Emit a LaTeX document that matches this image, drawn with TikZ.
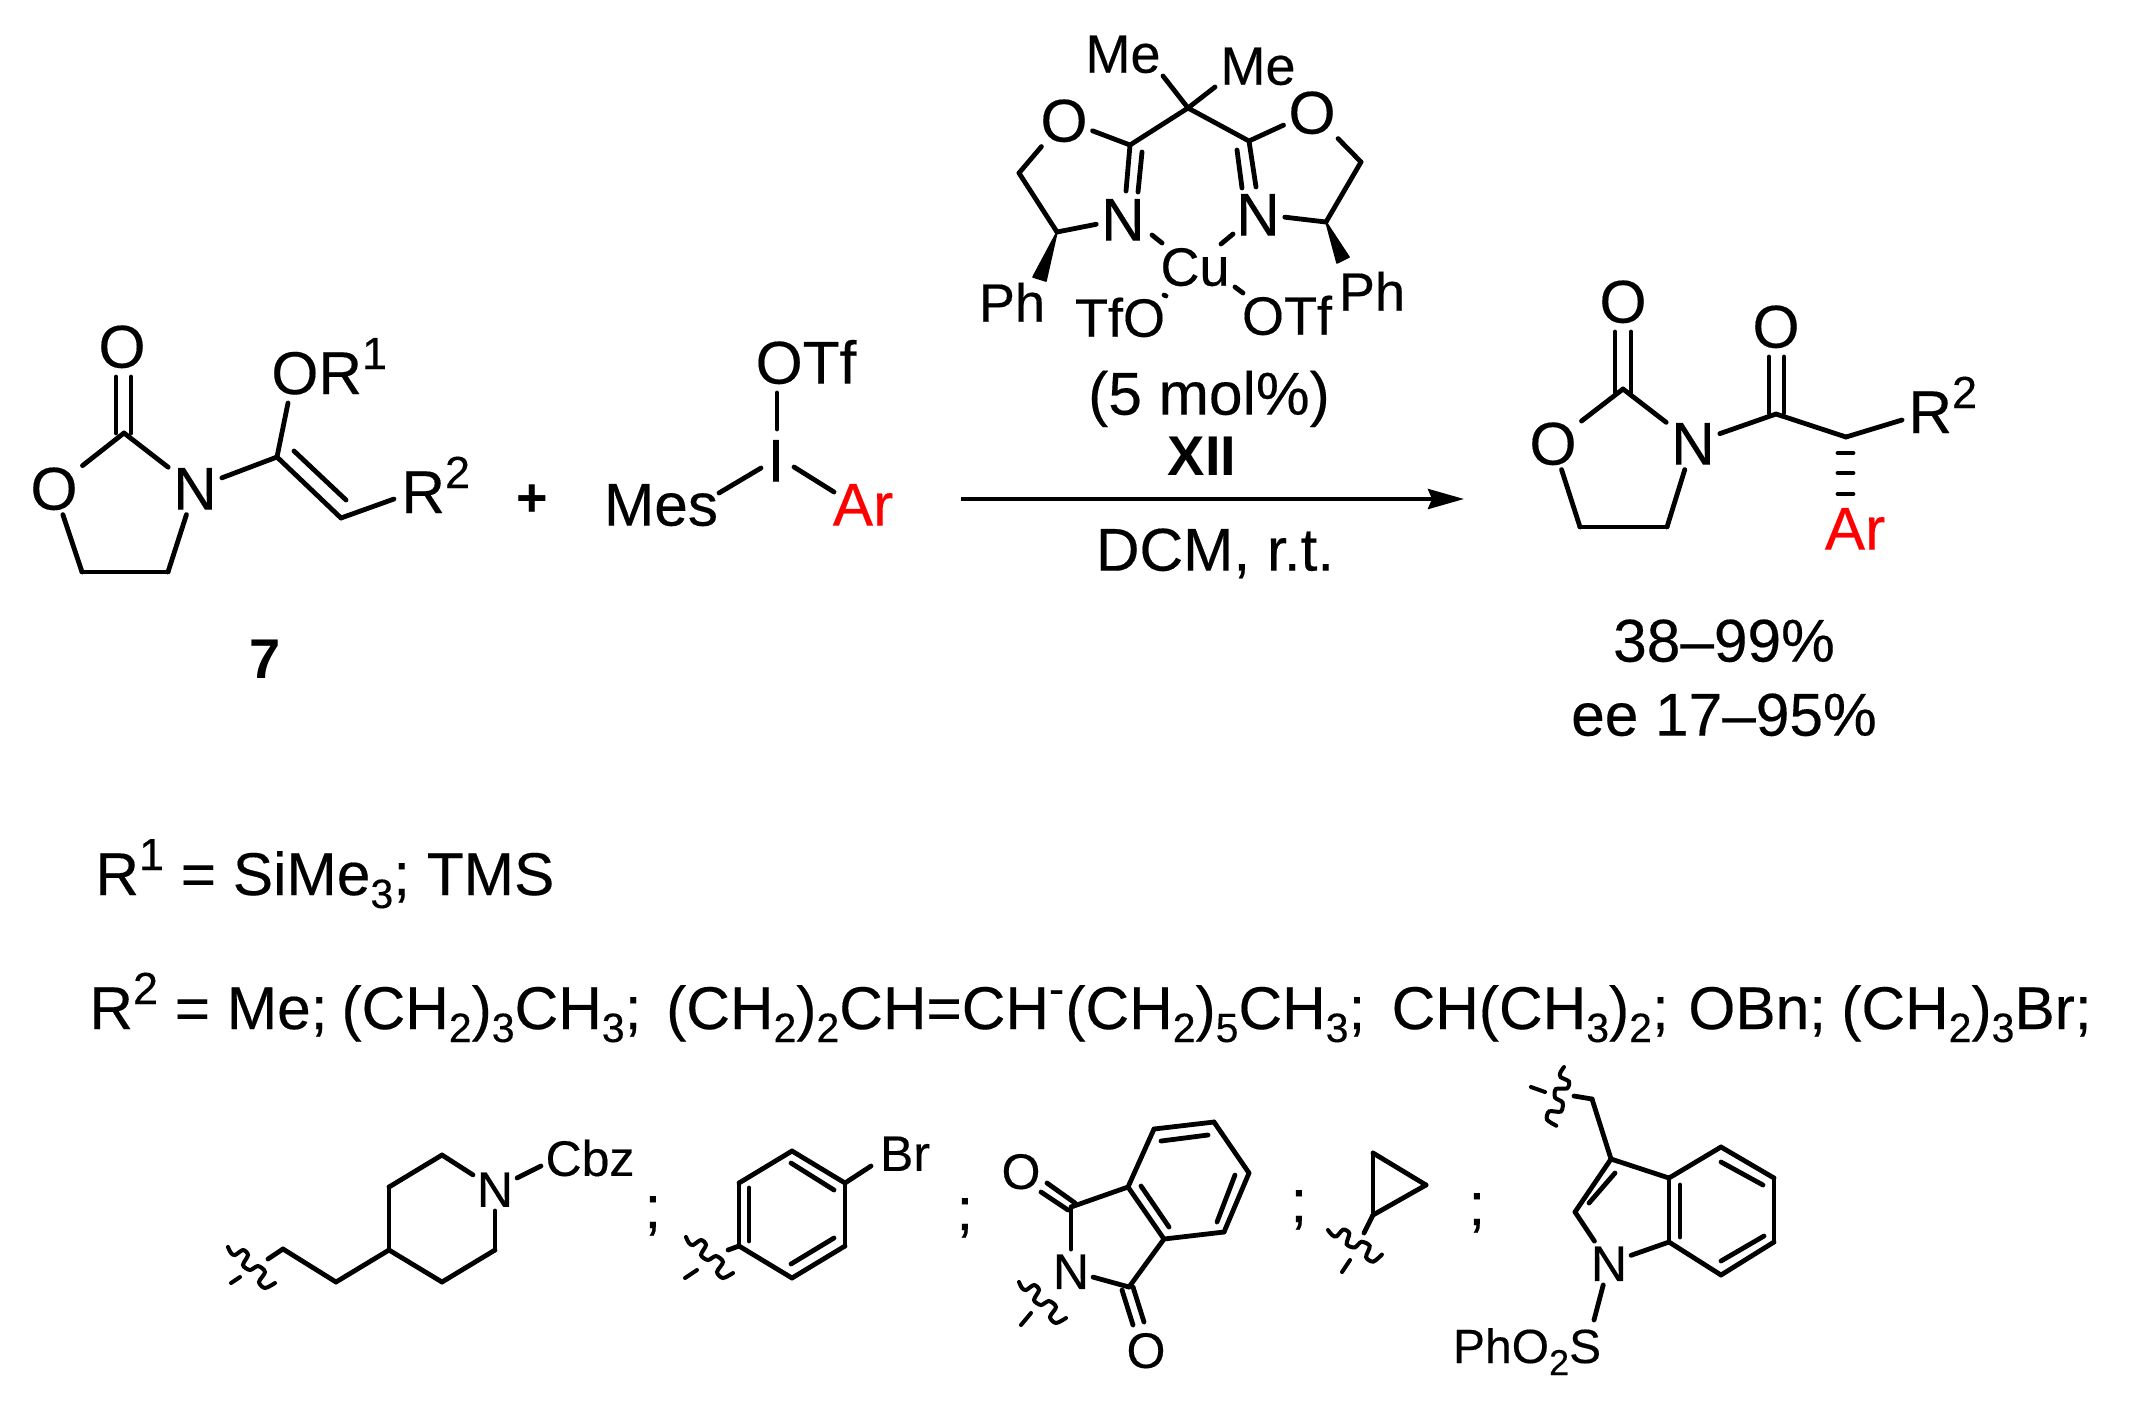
\documentclass[tikz,border=0pt]{standalone}
\usepackage{fontspec}
\setmainfont{Liberation Sans}[FakeBold=0.3, BoldFeatures={FakeBold=0}]
\usetikzlibrary{arrows.meta}
\newcommand{\supr}[1]{\raisebox{12.5pt}{\fontsize{22.5}{22}\selectfont #1}}
\newcommand{\subr}[1]{\raisebox{-6.5pt}{\fontsize{20.5}{20}\selectfont #1}}
\newcommand{\subs}[1]{\raisebox{-6pt}{\fontsize{18}{20}\selectfont #1}}
\newcommand{\squiggle}[2]{\draw[wavy, shift={(#1)}, rotate=#2] plot[smooth] coordinates {(0,0) (3,6) (7,8) (15,3) (20,8) (15,18) (22,23) (30,19) (37,25) (31,35) (37,41) (47,36)};}
\begin{document}
\begin{tikzpicture}[x=0.5pt, y=-0.5pt]
        \tikzstyle{atom} = [inner sep=0pt, outer sep=2.5pt, text height=21.6pt, text depth=0pt, font=\fontsize{30.2}{32}\selectfont]
        \tikzstyle{boldatom} = [atom, font=\bfseries\fontsize{28}{32}\selectfont, text height=20pt]
        \tikzstyle{ligand} = [inner sep=0pt, outer sep=2.5pt, text height=19.7pt, text depth=0pt, font=\fontsize{27}{32}\selectfont]
        \tikzstyle{small} = [inner sep=0pt, outer sep=2pt, text height=17.9pt, text depth=0pt, font=\fontsize{25}{28}\selectfont]
        \tikzstyle{note} = [inner sep=0pt, anchor=base west, font=\fontsize{30.2}{32}\selectfont]
        \tikzstyle{bond} = [line width=2.4pt, line cap=round, line join=round]
        \tikzstyle{wavy} = [line width=2pt, line cap=round]
        \useasboundingbox (0,0) rectangle (2131,1405);
        % reactant 7
        \node[atom] (oa) at (122,346) {O};
        \node[atom] (ob) at (54,488) {O};
        \node[atom] (na) at (195,488) {N};
        \node[note] (orone) at (271,394) {OR\supr{1}};
        \node[note] (rtwoa) at (401,513) {R\supr{2}};
        \node[boldatom] (seven) at (265,658) {7};
        \foreach \nm/\px/\py in {ca/124/433, dbaa/116/377, dbab/131/377, dbac/116/433, dbad/131/433,
          cha/82/572, chb/168/572, cc/277/457, cd/341/518, dbca/294/451, dbcb/346/500,
          orend/288/403, rend/394/499}
          \coordinate (\nm) at (\px,\py);
        \path (dbaa) edge[bond] (dbac) (dbab) edge[bond] (dbad)
          (ca) edge[bond] (ob) (ca) edge[bond] (na) (ob) edge[bond] (cha)
          (cha) edge[bond] (chb) (chb) edge[bond] (na) (na) edge[bond] (cc)
          (cc) edge[bond] (orend) (cc) edge[bond] (cd) (dbca) edge[bond] (dbcb)
          (cd) edge[bond] (rend);
        \node[atom, font=\bfseries\fontsize{27}{32}\selectfont, text height=19pt] (plus) at (532,497) {+};
        % iodonium salt
        \node[atom] (iod) at (776,460) {I};
        \node[atom] (otfa) at (806,362) {OTf};
        \node[atom] (mes) at (661,504) {Mes};
        \node[atom, text=red] (ara) at (863,504) {Ar};
        \foreach \nm/\px/\py in {otfend/777/393, iotf/777/429, imes/761/468, mesend/719/493, iar/794/467, arend/834/492}
          \coordinate (\nm) at (\px,\py);
        \path (otfend) edge[bond] (iotf) (imes) edge[bond] (mesend) (iar) edge[bond] (arend);
        % catalyst XII
        \node[ligand] (mea) at (1123,53) {Me};
        \node[ligand] (meb) at (1258,65) {Me};
        \node[atom] (ol) at (1064,120) {O};
        \node[atom] (or) at (1312,112) {O};
        \node[atom] (nl) at (1123,219) {N};
        \node[atom] (nr) at (1258,214) {N};
        \node[ligand] (cu) at (1195,266) {Cu};
        \node[ligand] (phl) at (1012,302) {Ph};
        \node[ligand] (phr) at (1372,291) {Ph};
        \node[ligand] (tfo) at (1120,317) {TfO};
        \node[ligand] (otfb) at (1287,315) {OTf};
        \foreach \nm/\px/\py in {cq/1188/108, mealine/1163/76, mebline/1215/87, cl/1130/145, cr/1249/141,
          chl/1019/173, chr/1361/162, sl/1057/232, sr/1326/222,
          dla/1126/191, dlb/1142/152, dlc/1138/192, dra/1256/187, drb/1237/150, drc/1242/188,
          wla/1033/277, wlb/1046/281, wra/1337/263, wrb/1349/257,
          cnla/1152/235, cnlb/1162/243, cnra/1233/234, cnrb/1221/244, cota/1164/295, cotb/1166/296, cotc/1235/287, cotd/1243/293}
          \coordinate (\nm) at (\px,\py);
        \path (cq) edge[bond] (mealine) (cq) edge[bond] (mebline) (cq) edge[bond] (cl) (cq) edge[bond] (cr)
          (cl) edge[bond] (ol) (cr) edge[bond] (or) (ol) edge[bond] (chl) (or) edge[bond] (chr)
          (chl) edge[bond] (sl) (chr) edge[bond] (sr) (sl) edge[bond] (nl) (sr) edge[bond] (nr)
          (cl) edge[bond] (dla) (dlb) edge[bond] (dlc) (cr) edge[bond] (dra) (drb) edge[bond] (drc)
          (cnla) edge[bond] (cnlb) (cnra) edge[bond] (cnrb) (cota) edge[bond] (cotb) (cotc) edge[bond] (cotd);
        \filldraw[line width=0.8pt, line join=round] (sl) -- (wla) -- (wlb) -- cycle;
        \filldraw[line width=0.8pt, line join=round] (sr) -- (wra) -- (wrb) -- cycle;
        % conditions
        \node[atom] (mol) at (1209,393) {(5 mol\%)};
        \node[boldatom] (xii) at (1202,455) {XII};
        \node[atom] (dcm) at (1215,549) {DCM, r.t.};
        \coordinate (arrstart) at (961,499);
        \coordinate (arrend) at (1464,499);
        \draw[line width=2pt, -{Stealth[length=18pt, width=10pt, inset=2pt]}] (arrstart) -- (arrend);
        % product
        \node[atom] (oc) at (1623,301) {O};
        \node[atom] (od) at (1553,443) {O};
        \node[atom] (nb) at (1693,443) {N};
        \node[atom] (oe) at (1776,326) {O};
        \node[note] (rtwob) at (1908,433) {R\supr{2}};
        \node[atom, text=red] (arb) at (1855,528) {Ar};
        \foreach \nm/\px/\py in {pca/1623/389, paa/1615/332, pab/1631/332, pac/1615/392, pad/1631/392,
          pha/1580/527, phb/1667/527, pcb/1776/414, pba/1769/357, pbb/1784/357, pbc/1769/413, pbd/1784/413,
          pcc/1846/437, prend/1902/420, hsa/1838/453, hsb/1853/453, hsc/1838/473, hsd/1853/473, hse/1838/494, hsf/1853/494}
          \coordinate (\nm) at (\px,\py);
        \path (paa) edge[bond] (pac) (pab) edge[bond] (pad) (pca) edge[bond] (od) (pca) edge[bond] (nb)
          (od) edge[bond] (pha) (pha) edge[bond] (phb) (phb) edge[bond] (nb) (nb) edge[bond] (pcb)
          (pba) edge[bond] (pbc) (pbb) edge[bond] (pbd) (pcb) edge[bond] (pcc) (pcc) edge[bond] (prend)
          (hsa) edge[bond] (hsb) (hsc) edge[bond] (hsd) (hse) edge[bond] (hsf);
        \node[atom] (yield) at (1724,640) {38--99\%};
        \node[atom] (ee) at (1724,714) {ee 17--95\%};
        % substituents
        \node[note] (rone) at (95,895) {R\supr{1} = SiMe\subr{3}; TMS};
        \node[note] (rtwo) at (89,1029) {R\supr{2} = Me;\kern-1.4pt{} (CH\subr{2})\subr{3}CH\subr{3};\kern4pt{} (CH\subr{2})\subr{2}CH=CH\supr{-}\kern.7pt(CH\subr{2})\subr{5}CH\subr{3};\kern4.8pt{} CH(CH\subr{3})\subr{2};\kern1.4pt{} OBn;\kern-.7pt{} (CH\subr{2})\subr{3}Br;};
        \node[note] (sema) at (644,1228) {;};
        \node[note] (semb) at (956,1230) {;};
        \node[note] (semc) at (1290,1222) {;};
        \node[note] (semd) at (1468,1225) {;};
        % piperidine
        \node[small] (np) at (495,1189) {N};
        \node[small] (cbz) at (590,1158) {Cbz};
        \foreach \nm/\px/\py in {ppa/283/1249, ppb/268/1259, ppc/336/1282, ppd/389/1250, ppe/389/1187, ppf/442/1155,
          ppg/495/1250, pph/442/1282, ppi/541/1166, wva/228/1247, wvg/231/1283, wvh/240/1277}
          \coordinate (\nm) at (\px,\py);
        \path (ppb) edge[bond] (ppa) (ppa) edge[bond] (ppc) (ppc) edge[bond] (ppd) (ppd) edge[bond] (ppe)
          (ppe) edge[bond] (ppf) (ppf) edge[bond] (np) (np) edge[bond] (ppg) (ppg) edge[bond] (pph)
          (pph) edge[bond] (ppd) (np) edge[bond] (ppi) (wvg) edge[wavy] (wvh);
        \squiggle{wva}{0}
        % bromophenyl
        \node[small] (br) at (905,1153) {Br};
        \foreach \nm/\px/\py in {bza/792/1151, bzb/845/1183, bzc/845/1246, bzd/792/1278, bze/739/1246, bzf/739/1183,
          bia/791/1163, bib/834/1190, bic/834/1238, bid/791/1264, bie/749/1188, bif/749/1241, bend/871/1166, bwk/728/1250,
          wwa/686/1237, wwg/685/1278, wwh/697/1270}
          \coordinate (\nm) at (\px,\py);
        \path (bza) edge[bond] (bzb) (bzb) edge[bond] (bzc) (bzc) edge[bond] (bzd) (bzd) edge[bond] (bze)
          (bze) edge[bond] (bzf) (bzf) edge[bond] (bza) (bia) edge[bond] (bib) (bic) edge[bond] (bid)
          (bie) edge[bond] (bif) (bzb) edge[bond] (bend) (bze) edge[bond] (bwk) (wwg) edge[wavy] (wwh);
        \squiggle{wwa}{0}
        % phthalimide
        \node[small] (oth) at (1021,1171) {O};
        \node[small] (otj) at (1146,1350) {O};
        \node[small] (nph) at (1071,1271) {N};
        \foreach \nm/\px/\py in {pta/1128/1187, ptb/1154/1129, ptc/1214/1122, ptd/1249/1173, pte/1224/1232, ptf/1164/1239,
          pia/1161/1141, pib/1208/1135, pic/1235/1175, pid/1217/1222, pie/1169/1227, pif/1141/1186,
          ptg/1071/1207, pth/1129/1287, pja/1068/1210, pjb/1041/1192, pjc/1075/1203, pjd/1047/1183,
          pjg/1122/1290, pjh/1133/1325, pji/1133/1287, pjj/1144/1322,
          wpa/1019/1282, wpg/1021/1325, wph/1031/1313}
          \coordinate (\nm) at (\px,\py);
        \path (pta) edge[bond] (ptb) (ptb) edge[bond] (ptc) (ptc) edge[bond] (ptd) (ptd) edge[bond] (pte)
          (pte) edge[bond] (ptf) (ptf) edge[bond] (pta) (pia) edge[bond] (pib) (pic) edge[bond] (pid) (pie) edge[bond] (pif)
          (ptg) edge[bond] (pta) (ptg) edge[bond] (nph) (pth) edge[bond] (nph) (pth) edge[bond] (ptf)
          (pja) edge[bond] (pjb) (pjc) edge[bond] (pjd) (pjg) edge[bond] (pjh) (pji) edge[bond] (pjj) (wpg) edge[wavy] (wph);
        \squiggle{wpa}{0}
        % cyclopropane
        \foreach \nm/\px/\py in {cpa/1373/1153, cpb/1426/1185, cpc/1373/1215, cpd/1364/1233,
          wca/1328/1230, wcg/1342/1272, wch/1350/1260}
          \coordinate (\nm) at (\px,\py);
        \path (cpa) edge[bond] (cpb) (cpb) edge[bond] (cpc) (cpc) edge[bond] (cpa) (cpc) edge[bond] (cpd) (wcg) edge[wavy] (wch);
        \squiggle{wca}{13}
        % indole
        \node[small] (nin) at (1609,1263) {N};
        \node[small, anchor=base west, text height=0pt, font=\fontsize{24}{28}\selectfont] (phs) at (1449,1363) {PhO\subs{2}S};
        \foreach \nm/\px/\py in {ia/1611/1159, ib/1592/1099, ic/1574/1096, id/1575/1212, ie/1669/1178, ig/1669/1242,
          ih/1721/1147, ii/1774/1178, ij/1774/1242, ik/1721/1275, il/1721/1162, im/1763/1185, in/1764/1236, io/1721/1261,
          ip/1680/1185, iq/1680/1237, ir/1589/1203, is/1615/1173, it/1594/1320,
          wia/1564/1067, wig/1531/1087, wih/1545/1092}
          \coordinate (\nm) at (\px,\py);
        \path (ia) edge[bond] (ib) (ib) edge[bond] (ic) (ia) edge[bond] (id) (id) edge[bond] (nin) (ia) edge[bond] (ie)
          (ie) edge[bond] (ig) (ig) edge[bond] (nin) (ie) edge[bond] (ih) (ih) edge[bond] (ii) (ii) edge[bond] (ij)
          (ij) edge[bond] (ik) (ik) edge[bond] (ig) (il) edge[bond] (im) (in) edge[bond] (io) (ip) edge[bond] (iq)
          (ir) edge[bond] (is) (nin) edge[bond] (it) (wig) edge[wavy] (wih);
        \squiggle{wia}{-60}
      \end{tikzpicture}
\end{document}
